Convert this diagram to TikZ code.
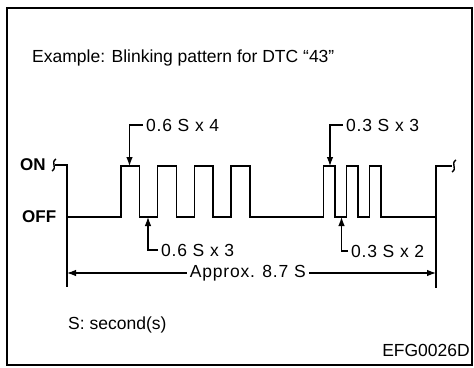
\documentclass[tikz,border=0pt]{standalone}
\usepackage{fontspec}
\setmainfont{Liberation Sans}
\usetikzlibrary{arrows.meta,positioning}

\begin{document}
\begin{tikzpicture}[x=1pt,y=-1pt,
  lbl/.style={font=\fontsize{17.5}{20}\selectfont\addfontfeatures{LetterSpace=4.5}, inner sep=3pt},
  tag/.style={font=\fontsize{17}{20}\selectfont\bfseries, inner sep=0pt},
  txt/.style={font=\fontsize{17.5}{20}\selectfont, inner sep=0pt},
  wave/.style={line width=1.4pt, line join=miter},
  lead/.style={line width=1.1pt, -{Latex[length=9pt,width=6.5pt]}},
  dim/.style={line width=1.1pt, {Latex[length=9pt,width=6.5pt]}-{Latex[length=9pt,width=6.5pt]}}
]
\useasboundingbox (0,0) rectangle (474,367);

% frame
\draw[line width=1.6pt] (7,8) rectangle (472,365);

\node[txt, anchor=base west] (title) at (32,62) {Example: Blinking pattern for DTC “43”};
\node[tag, anchor=west] (on) at (20,165) {ON};
\node[tag, anchor=west] (off) at (22,217) {OFF};

% signal
\draw[wave] (52,171) .. controls (58,167) and (50,163) .. (56,159);
\draw[wave] (55,165) -- (67,165) -- (67,217)
  \foreach \s in {121,157.7,194.4,231.1} { -- (\s,217) -- (\s,166) -- (\s+18.7,166) -- (\s+18.7,217) }
  \foreach \s in {323.5,346.5,369.5} { -- (\s,217) -- (\s,166) -- (\s+11.5,166) -- (\s+11.5,217) }
  -- (436,217) -- (436,166) -- (452,166);
\draw[wave] (452,172) .. controls (458,168) and (450,164) .. (456,160);
\draw[wave] (67,217) -- (67,287);
\draw[wave] (436,217) -- (436,288);

% pulse labels
\coordinate (a64) at (129.5,166);
\coordinate (a63) at (148,217);
\coordinate (a33) at (330,166);
\coordinate (a32) at (341.5,217);
\node[lbl, anchor=west] (l64) at (143,125) {0.6 S x 4};
\node[lbl, anchor=west] (l63) at (158,250) {0.6 S x 3};
\node[lbl, anchor=west] (l33) at (343,125) {0.3 S x 3};
\node[lbl, anchor=west] (l32) at (348,251) {0.3 S x 2};
\draw[lead] (l64.west) -| (a64);
\draw[lead] (l63.west) -| (a63);
\draw[lead] (l33.west) -| (a33);
\draw[lead] (l32.west) -| (a32);

% overall time
\coordinate (dl) at (67,273);
\coordinate (dr) at (436,273);
\draw[dim] (dl) -- node[pos=.49, fill=white, lbl] (total) {Approx. 8.7 S} (dr);

\node[txt, anchor=west] (unit) at (68,325) {S: second(s)};
\node[txt, anchor=east] (code) at (470,350) {EFG0026D};
\end{tikzpicture}
\end{document}
